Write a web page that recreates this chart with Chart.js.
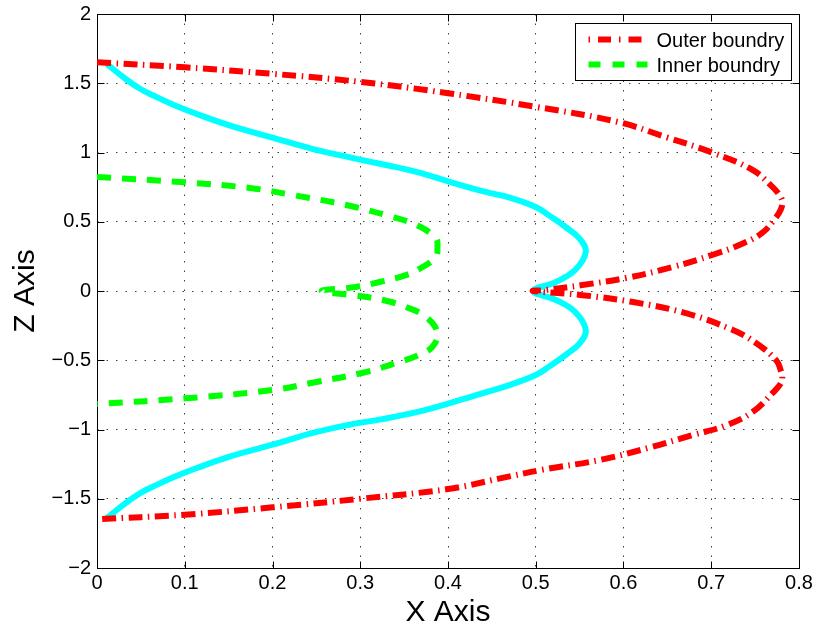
<!DOCTYPE html>
<html lang="en">
<head>
  <meta charset="UTF-8">
  <title>Outer / Inner boundry</title>
  <script src="https://cdn.jsdelivr.net/npm/chart.js"></script>
  <style>
    html, body { margin: 0; padding: 0; background: #fff; }
    #wrap { width: 818px; height: 632px; }
  </style>
</head>
<body>
  <div id="wrap"><canvas id="boundChart" width="818" height="632"></canvas></div>

  <script>
    // outer boundry (red dash-dot), traced from top (z>0) to bottom
    const outerX = [0, 0.1, 0.2, 0.3, 0.4, 0.5, 0.594, 0.649, 0.701, 0.747, 0.77, 0.779, 0.781, 0.779, 0.774, 0.758, 0.732, 0.701, 0.656, 0.603, 0.553, 0.511, 0.497,
                    0.553, 0.611, 0.671, 0.724, 0.751, 0.774, 0.779, 0.781, 0.779, 0.77, 0.747, 0.717, 0.679, 0.63, 0.573, 0.508, 0.458, 0.4, 0.3, 0.2, 0.1, 0];
    const outerZ = [1.651, 1.615, 1.568, 1.51, 1.428, 1.33, 1.22, 1.11, 1.0, 0.874, 0.75, 0.68, 0.635, 0.585, 0.534, 0.419, 0.332, 0.26, 0.173, 0.094, 0.043, 0.007, 0,
                    -0.03, -0.08, -0.16, -0.28, -0.375, -0.5, -0.57, -0.62, -0.67, -0.736, -0.874, -0.97, -1.04, -1.13, -1.22, -1.29, -1.355, -1.43, -1.5, -1.562, -1.615, -1.648];

    // inner boundry (green dashed)
    const innerX = [0, 0.1, 0.174, 0.223, 0.284, 0.337, 0.364, 0.386, 0.388, 0.386, 0.371, 0.352, 0.322, 0.295, 0.256,
                    0.299, 0.326, 0.352, 0.375, 0.388, 0.382, 0.367, 0.341, 0.303, 0.25, 0.2, 0.101, 0];
    const innerZ = [0.823, 0.785, 0.744, 0.693, 0.621, 0.534, 0.477, 0.383, 0.32, 0.245, 0.173, 0.115, 0.065, 0.029, 0,
                    -0.036, -0.065, -0.115, -0.188, -0.303, -0.404, -0.462, -0.52, -0.59, -0.657, -0.715, -0.775, -0.816];

    // middle curve (cyan solid, not in the legend)
    const midX = [0.011, 0.03, 0.049, 0.068, 0.087, 0.113, 0.151, 0.201, 0.246, 0.288, 0.325, 0.364, 0.401, 0.443, 0.47, 0.5, 0.515, 0.534, 0.55, 0.557, 0.545, 0.523, 0.497,
                  0.523, 0.545, 0.557, 0.55, 0.534, 0.515, 0.5, 0.47, 0.439, 0.401, 0.364, 0.325, 0.288, 0.246, 0.201, 0.151, 0.113, 0.087, 0.068, 0.049, 0.03, 0.011];
    const midZ = [1.64, 1.544, 1.46, 1.4, 1.345, 1.28, 1.196, 1.105, 1.025, 0.965, 0.915, 0.86, 0.79, 0.715, 0.675, 0.607, 0.546, 0.462, 0.378, 0.282, 0.152, 0.065, 0,
                  -0.065, -0.152, -0.282, -0.378, -0.462, -0.546, -0.607, -0.679, -0.739, -0.811, -0.875, -0.925, -0.965, -1.025, -1.108, -1.196, -1.28, -1.345, -1.4, -1.46, -1.544, -1.64];

    const xTicks = [0, 0.1, 0.2, 0.3, 0.4, 0.5, 0.6, 0.7, 0.8];
    const yTicks = [-2, -1.5, -1, -0.5, 0, 0.5, 1, 1.5, 2];

    const FONT = '"Liberation Sans", Arial, Helvetica, sans-serif';
    Chart.defaults.font.family = FONT;
    Chart.defaults.color = '#000';

    function toPoints(xs, zs) {
      return xs.map((x, i) => ({ x: x, y: zs[i] }));
    }

    function fmt(v) {
      const r = Math.round(v * 10) / 10;
      return r < 0 ? '\u2212' + Math.abs(r) : String(r);
    }

    // box + inward tick marks on all four sides (matlab style)
    const frameTicks = {
      id: 'frameTicks',
      beforeDatasetsDraw(chart) {
        const { ctx, chartArea: a, scales: { x, y } } = chart;
        const L = Math.round(a.left) + 0.5, R = Math.round(a.right) + 0.5;
        const T = Math.round(a.top) + 0.5, B = Math.round(a.bottom) + 0.5;
        ctx.save();
        ctx.strokeStyle = '#000';
        ctx.lineWidth = 1;
        ctx.beginPath();
        xTicks.forEach(v => {
          const px = Math.round(x.getPixelForValue(v)) + 0.5;
          ctx.moveTo(px, B); ctx.lineTo(px, B - 7);
          ctx.moveTo(px, T); ctx.lineTo(px, T + 7);
        });
        yTicks.forEach(v => {
          const py = Math.round(y.getPixelForValue(v)) + 0.5;
          ctx.moveTo(L, py); ctx.lineTo(L + 7, py);
          ctx.moveTo(R, py); ctx.lineTo(R - 7, py);
        });
        ctx.stroke();
        ctx.strokeRect(L, T, R - L, B - T);
        ctx.restore();
      }
    };

    // legend box in the top right corner, line samples use the dataset styles
    const boxLegend = {
      id: 'boxLegend',
      afterDraw(chart) {
        const { ctx, chartArea } = chart;
        const items = chart.data.datasets.filter(d => d.inLegend);
        ctx.save();
        ctx.font = '20px ' + FONT;
        const tw = Math.max(...items.map(d => ctx.measureText(d.label).width));
        const w = Math.round(13 + 59 + 9 + tw + 7);
        const h = 57;
        const x0 = Math.round(chartArea.right - 8 - w) + 0.5;
        const y0 = Math.round(chartArea.top + 9) + 0.5;
        ctx.fillStyle = '#fff';
        ctx.fillRect(x0, y0, w, h);
        ctx.strokeStyle = '#000';
        ctx.lineWidth = 1;
        ctx.strokeRect(x0, y0, w, h);
        items.forEach((d, i) => {
          const ly = y0 + 16 + i * 25;
          ctx.beginPath();
          ctx.setLineDash(d.legendDash || d.borderDash || []);
          ctx.lineDashOffset = d.legendDashOffset || 0;
          ctx.strokeStyle = d.borderColor;
          ctx.lineWidth = d.borderWidth;
          ctx.moveTo(x0 + 13, ly);
          ctx.lineTo(x0 + 72, ly);
          ctx.stroke();
          ctx.setLineDash([]);
          ctx.fillStyle = '#000';
          ctx.textAlign = 'left';
          ctx.textBaseline = 'middle';
          ctx.fillText(d.label, x0 + 81, ly + 1.5);
        });
        ctx.restore();
      }
    };

    const ctx = document.getElementById('boundChart').getContext('2d');
    new Chart(ctx, {
      type: 'scatter',
      data: {
        datasets: [
          {
            label: 'Outer boundry',
            inLegend: true,
            data: toPoints(outerX, outerZ),
            showLine: true,
            borderColor: '#ff0000',
            borderWidth: 6,
            borderDash: [14, 5.5, 1.5, 5.5],
            legendDash: [13, 8, 1.5, 8],
            legendDashOffset: 21,
            pointRadius: 0,
            tension: 0.4
          },
          {
            label: 'Inner boundry',
            inLegend: true,
            data: toPoints(innerX, innerZ),
            showLine: true,
            borderColor: '#00ff00',
            borderWidth: 6,
            borderDash: [14, 11],
            legendDash: [12, 12],
            pointRadius: 0,
            tension: 0.4
          },
          {
            label: 'middle',
            inLegend: false,
            data: toPoints(midX, midZ),
            showLine: true,
            borderColor: '#00ffff',
            borderWidth: 6,
            pointRadius: 0,
            tension: 0.4
          }
        ]
      },
      options: {
        responsive: false,
        animation: false,
        layout: { padding: { left: 0, right: 19, top: 14, bottom: 0 } },
        plugins: {
          legend: { display: false },
          tooltip: { enabled: false }
        },
        scales: {
          x: {
            type: 'linear',
            min: 0,
            max: 0.8,
            afterBuildTicks: s => { s.ticks = xTicks.map(v => ({ value: v })); },
            afterFit: s => { s.height = 64; s.paddingLeft = 0; s.paddingRight = 0; },
            grid: { color: 'rgba(0,0,0,0.75)', lineWidth: 1, drawTicks: false },
            border: { display: false, dash: [1.5, 8] },
            ticks: { color: '#000', padding: 3, maxRotation: 0, autoSkip: false, font: { size: 20 }, callback: v => fmt(v) },
            title: { display: true, text: 'X Axis', color: '#000', font: { size: 30 }, padding: { top: 0, bottom: 1 } }
          },
          y: {
            type: 'linear',
            min: -2,
            max: 2,
            afterBuildTicks: s => { s.ticks = yTicks.map(v => ({ value: v })); },
            afterFit: s => { s.width = 97; s.paddingTop = 0; s.paddingBottom = 0; },
            grid: { color: 'rgba(0,0,0,0.75)', lineWidth: 1, drawTicks: false },
            border: { display: false, dash: [1.5, 8] },
            ticks: { color: '#000', padding: 6, autoSkip: false, font: { size: 20 }, callback: v => fmt(v) },
            title: { display: true, text: 'Z Axis', color: '#000', font: { size: 30 }, padding: { top: 8, bottom: 0 } }
          }
        }
      },
      plugins: [frameTicks, boxLegend]
    });
  </script>
</body>
</html>
